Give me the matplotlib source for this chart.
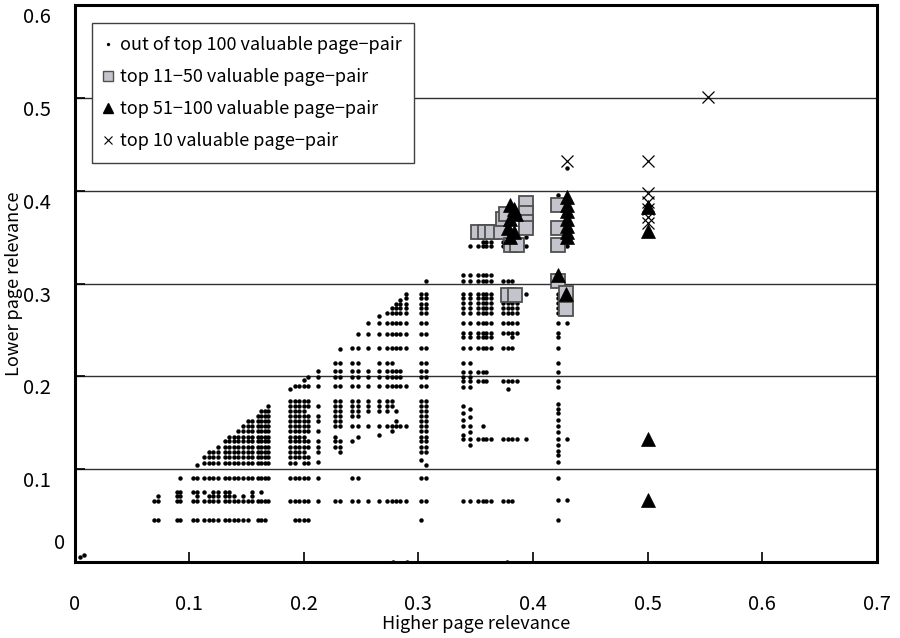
import matplotlib
matplotlib.use("Agg")
import matplotlib.pyplot as plt
import matplotlib.transforms as mtransforms
from matplotlib.lines import Line2D

plt.rcParams['font.family'] = ['Noto Sans CJK JP', 'DejaVu Sans']

# ---- data: "out of top 100" dots, column by column (x value, list of y values)
other_cols = [
    (0.005, [0.005]), (0.008, [0.008]),
    (0.069, [0.045, 0.066]),
    (0.073, [0.045, 0.066, 0.071]),
    (0.089, [0.045, 0.066, 0.071, 0.075]),
    (0.092, [0.045, 0.066, 0.071, 0.075, 0.090]),
    (0.103, [0.045, 0.066, 0.075, 0.090]),
    (0.107, [0.045, 0.066, 0.071, 0.075, 0.090, 0.104]),
    (0.113, [0.045, 0.066, 0.075, 0.090, 0.107, 0.113]),
    (0.117, [0.045, 0.066, 0.071, 0.090, 0.107, 0.113, 0.118]),
    (0.121, [0.045, 0.066, 0.071, 0.075, 0.090, 0.107, 0.113, 0.118]),
    (0.125, [0.045, 0.066, 0.071, 0.075, 0.090, 0.107, 0.113, 0.118, 0.124]),
    (0.131, [0.045, 0.066, 0.071, 0.075, 0.090, 0.107, 0.113, 0.118, 0.124, 0.130]),
    (0.135, [0.045, 0.066, 0.071, 0.075, 0.090, 0.107, 0.113, 0.118, 0.124, 0.130, 0.135]),
    (0.139, [0.045, 0.066, 0.071, 0.090, 0.107, 0.113, 0.118, 0.124, 0.130, 0.135]),
    (0.143, [0.045, 0.066, 0.090, 0.107, 0.113, 0.118, 0.124, 0.130, 0.135, 0.141]),
    (0.147, [0.045, 0.066, 0.071, 0.090, 0.107, 0.113, 0.118, 0.124, 0.130, 0.135, 0.141, 0.146]),
    (0.151, [0.045, 0.066, 0.090, 0.107, 0.113, 0.118, 0.124, 0.130, 0.135, 0.141, 0.146, 0.152]),
    (0.155, [0.066, 0.071, 0.075, 0.090, 0.107, 0.113, 0.118, 0.124, 0.130, 0.135, 0.141, 0.146, 0.152]),
    (0.160, [0.045, 0.066, 0.090, 0.107, 0.113, 0.118, 0.124, 0.130, 0.135, 0.141, 0.146, 0.152, 0.157]),
    (0.163, [0.045, 0.066, 0.075, 0.090, 0.107, 0.113, 0.118, 0.124, 0.130, 0.135, 0.141, 0.146, 0.152, 0.157, 0.163]),
    (0.166, [0.045, 0.066, 0.090, 0.107, 0.113, 0.118, 0.124, 0.130, 0.135, 0.141, 0.146, 0.152, 0.157, 0.163]),
    (0.169, [0.066, 0.090, 0.107, 0.113, 0.118, 0.124, 0.130, 0.135, 0.141, 0.146, 0.152, 0.157, 0.163, 0.168]),
    (0.188, [0.066, 0.090, 0.107, 0.113, 0.118, 0.124, 0.130, 0.135, 0.141, 0.146, 0.152, 0.157, 0.163, 0.168, 0.173, 0.186]),
    (0.192, [0.045, 0.066, 0.090, 0.107, 0.113, 0.118, 0.124, 0.130, 0.135, 0.141, 0.146, 0.152, 0.157, 0.163, 0.168, 0.173, 0.190]),
    (0.196, [0.045, 0.066, 0.090, 0.113, 0.118, 0.124, 0.130, 0.135, 0.141, 0.146, 0.152, 0.157, 0.163, 0.168, 0.173, 0.190]),
    (0.200, [0.045, 0.066, 0.090, 0.107, 0.113, 0.118, 0.124, 0.130, 0.135, 0.141, 0.146, 0.152, 0.157, 0.163, 0.168, 0.173, 0.190, 0.196]),
    (0.204, [0.045, 0.066, 0.090, 0.107, 0.113, 0.124, 0.130, 0.141, 0.146, 0.152, 0.157, 0.168, 0.173, 0.190, 0.199]),
    (0.212, [0.066, 0.090, 0.108, 0.118, 0.124, 0.130, 0.141, 0.152, 0.157, 0.168, 0.190, 0.199, 0.206]),
    (0.227, [0.066, 0.124, 0.130, 0.135, 0.146, 0.152, 0.157, 0.163, 0.168, 0.173, 0.190, 0.199, 0.206, 0.214]),
    (0.232, [0.066, 0.118, 0.124, 0.130, 0.146, 0.152, 0.157, 0.163, 0.168, 0.173, 0.190, 0.199, 0.206, 0.214, 0.229]),
    (0.242, [0.066, 0.090, 0.130, 0.146, 0.157, 0.163, 0.168, 0.173, 0.190, 0.199, 0.206, 0.214, 0.230]),
    (0.247, [0.066, 0.090, 0.135, 0.146, 0.157, 0.163, 0.168, 0.173, 0.190, 0.199, 0.206, 0.214, 0.230, 0.246]),
    (0.256, [0.066, 0.146, 0.163, 0.168, 0.173, 0.190, 0.199, 0.206, 0.230, 0.246, 0.257]),
    (0.266, [0.066, 0.137, 0.146, 0.163, 0.168, 0.173, 0.190, 0.199, 0.206, 0.214, 0.230, 0.246, 0.257, 0.265]),
    (0.273, [0.066, 0.146, 0.163, 0.168, 0.173, 0.190, 0.199, 0.206, 0.214, 0.230, 0.246, 0.257, 0.268]),
    (0.277, [0.066, 0.141, 0.146, 0.168, 0.173, 0.190, 0.199, 0.206, 0.214, 0.230, 0.246, 0.257, 0.268, 0.274]),
    (0.278, [0.0]),
    (0.280, [0.066, 0.146, 0.152, 0.163, 0.190, 0.199, 0.206, 0.230, 0.246, 0.257, 0.268, 0.274, 0.278]),
    (0.284, [0.066, 0.146, 0.190, 0.199, 0.206, 0.230, 0.246, 0.257, 0.268, 0.274, 0.278, 0.282]),
    (0.289, [0.066, 0.146, 0.190, 0.230, 0.246, 0.257, 0.268, 0.274, 0.278, 0.284, 0.289]),
    (0.290, [0.0]),
    (0.302, [0.045, 0.066, 0.090, 0.110, 0.118, 0.124, 0.130, 0.135, 0.141, 0.146, 0.152, 0.157, 0.163, 0.168, 0.173,
             0.190, 0.199, 0.206, 0.214, 0.230, 0.246, 0.257, 0.268, 0.274, 0.278, 0.284, 0.289]),
    (0.307, [0.066, 0.090, 0.104, 0.118, 0.124, 0.130, 0.135, 0.141, 0.146, 0.152, 0.157, 0.163, 0.168, 0.173,
             0.190, 0.199, 0.206, 0.214, 0.230, 0.246, 0.257, 0.268, 0.274, 0.278, 0.284, 0.289, 0.303]),
    (0.339, [0.066, 0.133, 0.137, 0.146, 0.153, 0.160, 0.168, 0.188, 0.195, 0.199, 0.205, 0.214, 0.231, 0.242,
             0.247, 0.257, 0.268, 0.274, 0.279, 0.284, 0.289, 0.303, 0.309]),
    (0.345, [0.066, 0.126, 0.133, 0.140, 0.147, 0.156, 0.165, 0.188, 0.195, 0.199, 0.205, 0.214, 0.231, 0.242,
             0.247, 0.257, 0.268, 0.274, 0.279, 0.284, 0.289, 0.303, 0.309, 0.340]),
    (0.352, [0.066, 0.133, 0.195, 0.205, 0.231, 0.242, 0.247, 0.257, 0.268, 0.274, 0.279, 0.284, 0.289, 0.303, 0.309, 0.340]),
    (0.356, [0.066, 0.133, 0.147, 0.195, 0.205, 0.231, 0.242, 0.247, 0.257, 0.268, 0.274, 0.279, 0.284, 0.289, 0.303,
             0.309, 0.340, 0.345]),
    (0.359, [0.066, 0.133, 0.195, 0.205, 0.231, 0.242, 0.247, 0.257, 0.268, 0.274, 0.279, 0.284, 0.289, 0.303, 0.309,
             0.340, 0.345]),
    (0.363, [0.066, 0.133, 0.231, 0.242, 0.247, 0.257, 0.268, 0.274, 0.279, 0.284, 0.289, 0.303, 0.309, 0.340, 0.345, 0.361]),
    (0.374, [0.066, 0.133, 0.195, 0.231, 0.247, 0.257, 0.268, 0.274, 0.279, 0.284, 0.289, 0.303, 0.340, 0.345]),
    (0.377, [0.0]),
    (0.378, [0.066, 0.133, 0.186, 0.195, 0.231, 0.247, 0.257, 0.268, 0.274, 0.279, 0.284, 0.303, 0.340]),
    (0.382, [0.066, 0.133, 0.195, 0.231, 0.242, 0.247, 0.257, 0.268, 0.274, 0.279, 0.303]),
    (0.386, [0.133, 0.195, 0.247, 0.257, 0.268, 0.274, 0.279]),
    (0.394, [0.133, 0.289, 0.340, 0.350]),
    (0.422, [0.045, 0.067, 0.090, 0.108, 0.115, 0.120, 0.126, 0.133, 0.140, 0.147, 0.153, 0.160, 0.165, 0.170,
             0.188, 0.195, 0.205, 0.214, 0.231, 0.242, 0.247, 0.257, 0.268, 0.274, 0.279, 0.284, 0.289, 0.395]),
    (0.430, [0.067, 0.133, 0.257, 0.340, 0.424]),
]

# top 11-50 (squares)
sq_x = [0.352, 0.358, 0.364, 0.372, 0.374, 0.376, 0.381, 0.386, 0.394, 0.394, 0.394, 0.394,
        0.422, 0.422, 0.422, 0.422, 0.429, 0.429, 0.378, 0.384]
sq_y = [0.355, 0.355, 0.355, 0.355, 0.370, 0.375, 0.341, 0.341, 0.387, 0.376, 0.366, 0.360,
        0.385, 0.360, 0.341, 0.303, 0.290, 0.272, 0.288, 0.288]

# top 51-100 (triangles)
tri_x = [0.380, 0.383, 0.385, 0.380, 0.378, 0.383, 0.380,
         0.430, 0.430, 0.430, 0.430, 0.430, 0.430, 0.430,
         0.422, 0.429, 0.500, 0.500, 0.500, 0.500]
tri_y = [0.385, 0.380, 0.375, 0.370, 0.360, 0.355, 0.350,
         0.393, 0.385, 0.378, 0.370, 0.362, 0.355, 0.350,
         0.309, 0.289, 0.382, 0.357, 0.133, 0.067]

# top 10 (crosses)
x10_x = [0.430, 0.500, 0.553, 0.500, 0.500, 0.500, 0.500, 0.500]
x10_y = [0.432, 0.432, 0.501, 0.397, 0.388, 0.380, 0.372, 0.365]

legend_labels = ["out of top 100 valuable page\u2212pair",
                 "top 11\u221250 valuable page\u2212pair",
                 "top 51\u2212100 valuable page\u2212pair",
                 "top 10 valuable page\u2212pair"]
x_ticks = [0, 0.1, 0.2, 0.3, 0.4, 0.5, 0.6, 0.7]
x_ticklabels = ["0", "0.1", "0.2", "0.3", "0.4", "0.5", "0.6", "0.7"]
y_ticks = [0, 0.1, 0.2, 0.3, 0.4, 0.5, 0.6]
y_ticklabels = ["0", "0.1", "0.2", "0.3", "0.4", "0.5", "0.6"]

ox = [x for x, ys in other_cols for _ in ys]
oy = [y for _, ys in other_cols for y in ys]

fig = plt.figure(figsize=(9, 6.38), dpi=100)
ax = fig.add_axes([74.5 / 900, (638 - 562) / 638, (877 - 74.5) / 900, (562 - 5) / 638])

for yv in y_ticks[1:-1]:
    ax.axhline(yv, color="#303030", lw=1.0, zorder=1)

ax.plot(ox, oy, linestyle="none", marker="o", ms=3.2, mfc="black", mec="black", mew=0, zorder=3)
ax.plot(sq_x, sq_y, linestyle="none", marker="s", ms=10, mfc="#c4c4cc", mec="#505050", mew=1.3, zorder=4)
ax.plot(tri_x, tri_y, linestyle="none", marker="^", ms=10.5, mfc="black", mec="black", mew=0.5, zorder=5)
ax.plot(x10_x, x10_y, linestyle="none", marker="x", ms=8.5, mec="black", mew=0.9, zorder=6)

ax.set_xlim(0, 0.7)
ax.set_ylim(0, 0.6)
ax.set_xticks(x_ticks)
ax.set_xticklabels(x_ticklabels)
ax.set_yticks(y_ticks)
ax.set_yticklabels(y_ticklabels)
ax.tick_params(axis="both", direction="in", length=7, width=1.2, colors="black")
ax.tick_params(axis="x", pad=23, labelsize=14.5)
ax.tick_params(axis="y", pad=17, labelsize=14.5)
# tick labels sit slightly below their gridlines in the reference; the "0" sits higher
for i, lab in enumerate(ax.get_yticklabels()):
    if i == 0:
        off = mtransforms.ScaledTranslation(0.14, 0.21, fig.dpi_scale_trans)
    else:
        off = mtransforms.ScaledTranslation(0, -0.10, fig.dpi_scale_trans)
    lab.set_transform(lab.get_transform() + off)
for s in ax.spines.values():
    s.set_linewidth(2.2)
    s.set_color("black")

ax.set_xlabel("Higher page relevance", fontsize=13, labelpad=0)
ax.set_ylabel("Lower page relevance", fontsize=13)
ax.yaxis.set_label_coords(-0.064, 0.5)

handles = [
    Line2D([], [], linestyle="none", marker="o", ms=2.4, mfc="black", mec="black", mew=0),
    Line2D([], [], linestyle="none", marker="s", ms=7, mfc="#c4c4cc", mec="#505050", mew=1.0),
    Line2D([], [], linestyle="none", marker="^", ms=7, mfc="black", mec="black"),
    Line2D([], [], linestyle="none", marker="x", ms=6, mec="black", mew=0.8),
]
leg = ax.legend(handles, legend_labels, loc="upper left", bbox_to_anchor=(0.0218, 0.967),
                fontsize=13, frameon=True, fancybox=False, shadow=False, handlelength=0.4,
                handletextpad=0.45, borderpad=0.7, labelspacing=0.78, borderaxespad=0)
leg.get_frame().set_edgecolor("#404040")
leg.get_frame().set_linewidth(1.0)
leg.get_frame().set_alpha(1)

fig.savefig("out.png", dpi=100)
